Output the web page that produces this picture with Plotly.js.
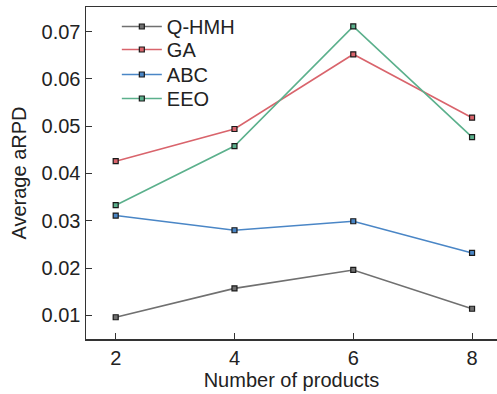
<!DOCTYPE html>
<html>
<head>
<meta charset="utf-8">
<script src="https://cdn.plot.ly/plotly-3.0.1.min.js"></script>
<style>html,body{margin:0;padding:0;background:#fff;}#chart{width:497px;height:394px;}</style>
</head>
<body>
<div id="chart"></div>
<script>
const products = [2, 4, 6, 8];
const seriesNames = ["Q-HMH", "GA", "ABC", "EEO"];
const qhmh = [0.0096, 0.0157, 0.0196, 0.0114];
const ga = [0.0426, 0.0494, 0.0652, 0.0518];
const abc = [0.0311, 0.0280, 0.0299, 0.0232];
const eeo = [0.0333, 0.0458, 0.0711, 0.0477];
const xTicks = [2, 4, 6, 8];
const yTicks = [0.01, 0.02, 0.03, 0.04, 0.05, 0.06, 0.07];
const yTickText = ["0.01", "0.02", "0.03", "0.04", "0.05", "0.06", "0.07"];

const colors = ["#707070", "#d9646c", "#4a86c6", "#5bb08c"];
const values = [qhmh, ga, abc, eeo];
const legendIds = ["legend", "legend2", "legend3", "legend4"];
const legendTops = [1.0, 0.9307, 0.8554, 0.7831];

const traces = values.map((v, i) => ({
  x: products,
  y: v,
  name: seriesNames[i],
  legend: legendIds[i],
  type: "scatter",
  mode: "lines+markers",
  line: {color: colors[i], width: 1.6},
  marker: {symbol: "square", size: 5, color: colors[i], line: {color: "#1a1a1a", width: 1.2}}
}));

const font = {family: "Liberation Sans, Arial, sans-serif", size: 20, color: "#222"};

const layout = {
  width: 497,
  height: 394,
  margin: {l: 86, r: 0, t: 7, b: 55},
  paper_bgcolor: "#fff",
  plot_bgcolor: "#fff",
  font: font,
  showlegend: true,
  xaxis: {
    range: [1.5, 8.42],
    tickvals: xTicks,
    ticktext: xTicks.map(String),
    ticks: "inside", ticklen: 6, tickwidth: 1, tickcolor: "#333",
    showline: true, linecolor: "#333", linewidth: 1.5, mirror: true,
    showgrid: false, zeroline: false,
    tickfont: font,
    title: {text: "Number of products", font: font, standoff: 4}
  },
  yaxis: {
    range: [0.005, 0.0752],
    tickvals: yTicks,
    ticktext: yTickText,
    ticks: "inside", ticklen: 6, tickwidth: 1, tickcolor: "#333",
    showline: true, linecolor: "#333", linewidth: 1.5, mirror: false,
    showgrid: false, zeroline: false,
    tickfont: font,
    title: {text: "Average aRPD", font: font, standoff: 9}
  }
};

legendIds.forEach((id, i) => {
  layout[id] = {
    x: 0.075, y: legendTops[i], xanchor: "left", yanchor: "top",
    bgcolor: "rgba(0,0,0,0)", borderwidth: 0,
    font: font, itemwidth: 40
  };
});

Plotly.newPlot("chart", traces, layout, {displayModeBar: false, staticPlot: true});
</script>
</body>
</html>
